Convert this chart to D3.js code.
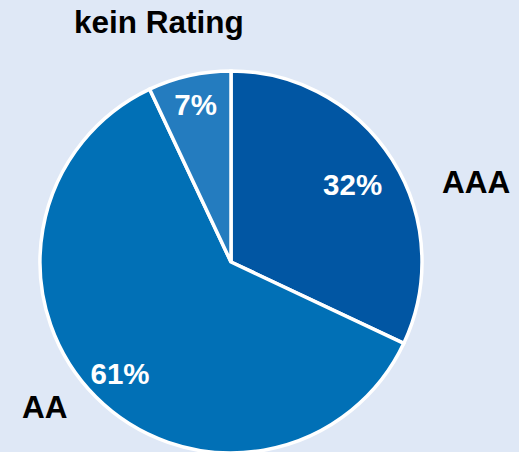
<!DOCTYPE html>
<html>
<head>
<meta charset="utf-8">
<script src="https://cdn.jsdelivr.net/npm/d3@7/dist/d3.min.js"></script>
<style>
  html, body { margin: 0; padding: 0; background: #dfe8f6; }
  svg { display: block; }
  text { font-family: "Liberation Sans", Arial, sans-serif; font-weight: bold; }
</style>
</head>
<body>
<svg id="chart" width="519" height="452"></svg>
<script>
// Data
const categories = ["AAA", "AA", "kein Rating"];
const values = [32, 61, 7];
const percentLabels = ["32%", "61%", "7%"];

// Style / layout (not data)
const colors = ["#0156a3", "#0170b6", "#247cbf"];
const cx = 231, cy = 262, radius = 191;
const innerLabelRadius = [144, 157, 162];
const outerLabelPos = [
  { x: 442, y: 193, anchor: "start" },
  { x: 22,  y: 418, anchor: "start" },
  { x: 74,  y: 33,  anchor: "start" }
];

const svg = d3.select("#chart");
svg.append("rect").attr("width", 519).attr("height", 452).attr("fill", "#dfe8f6");

const g = svg.append("g").attr("transform", `translate(${cx},${cy})`);

const pie = d3.pie().sort(null).value(d => d.value);
const data = categories.map((c, i) => ({ cat: c, value: values[i], label: percentLabels[i], i }));
const arcs = pie(data);

const arc = d3.arc().innerRadius(0).outerRadius(radius);

g.selectAll("path.slice")
  .data(arcs)
  .join("path")
  .attr("class", "slice")
  .attr("d", arc)
  .attr("fill", d => colors[d.data.i])
  .attr("stroke", "#ffffff")
  .attr("stroke-width", 3.5)
  .attr("stroke-linejoin", "miter");

g.selectAll("text.pct")
  .data(arcs)
  .join("text")
  .attr("class", "pct")
  .attr("transform", d => {
    const a = (d.startAngle + d.endAngle) / 2;
    const r = innerLabelRadius[d.data.i];
    return `translate(${Math.sin(a) * r},${-Math.cos(a) * r})`;
  })
  .attr("text-anchor", "middle")
  .attr("dy", "0.36em")
  .attr("fill", "#ffffff")
  .attr("font-size", 29.5)
  .text(d => d.data.label);

svg.selectAll("text.cat")
  .data(arcs)
  .join("text")
  .attr("class", "cat")
  .attr("x", d => outerLabelPos[d.data.i].x)
  .attr("y", d => outerLabelPos[d.data.i].y)
  .attr("text-anchor", d => outerLabelPos[d.data.i].anchor)
  .attr("fill", "#000000")
  .attr("font-size", 31.5)
  .text(d => d.data.cat);
</script>
</body>
</html>
